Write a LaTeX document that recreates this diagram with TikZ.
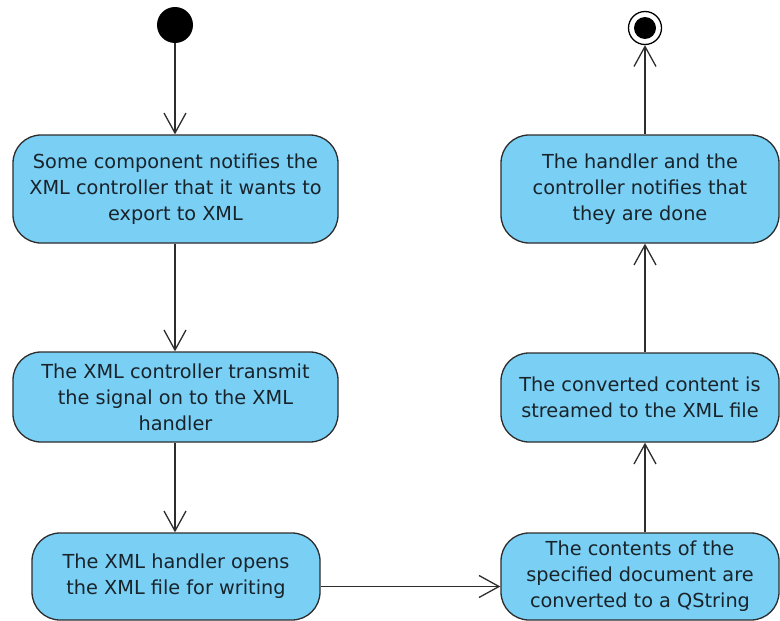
\documentclass[tikz,border=0pt]{standalone}
\usepackage{fontspec}
\setmainfont{DejaVu Sans}
\usetikzlibrary{arrows.meta}
\definecolor{actfill}{RGB}{122,207,245}
\definecolor{actline}{RGB}{45,45,45}
\definecolor{acttext}{RGB}{25,35,42}
\tikzset{
  action/.style={draw=actline, line width=1.3pt, fill=actfill, rounded corners=28pt,
    align=center, text=acttext, inner sep=0pt,
    font=\fontsize{19.3}{26}\selectfont},
  flow/.style={draw=actline, line width=1.3pt,
    -{Straight Barb[length=20pt,width=22pt,line width=1.3pt]}},
}
\begin{document}
\begin{tikzpicture}[x=1pt,y=-1pt]
\useasboundingbox (0,0) rectangle (780,621);
% initial and final states
\node[circle, fill=black, minimum size=36pt, inner sep=0pt] (init) at (175,25) {};
\node[circle, draw=black, line width=1.3pt, fill=white, minimum size=33pt, inner sep=0pt] (fin) at (645,28) {};
\fill[black] (fin.center) circle (11pt);
% actions, left column
\node[action, minimum width=325pt, minimum height=108pt] (b1) at (175.5,189)
  {Some component notifies the\\XML controller that it wants to\\export to XML};
\node[action, minimum width=325pt, minimum height=90pt] (b2) at (175.5,397)
  {The XML controller transmit\\the signal on to the XML\\handler};
\node[action, minimum width=288pt, minimum height=87pt] (b3) at (176,576.5)
  {The XML handler opens\\the XML file for writing};
% actions, right column
\node[action, minimum width=278pt, minimum height=108pt] (r1) at (640,189)
  {The handler and the\\controller notifies that\\they are done};
\node[action, minimum width=278pt, minimum height=89pt] (r2) at (640,397.5)
  {The converted content is\\streamed to the XML file};
\node[action, minimum width=278pt, minimum height=87pt] (r3) at (640,576.5)
  {The contents of the\\specified document are\\converted to a QString};
% control flow
\draw[flow] (init.south) -- (init.south |- b1.north);
\draw[flow] (b1.south -| init) -- (b2.north -| init);
\draw[flow] (b2.south -| init) -- (b3.north -| init);
\draw[flow] ([yshift=-10pt]b3.east) -- ([yshift=-10pt]b3.east -| r3.west);
\draw[flow] (r3.north -| fin) -- (r2.south -| fin);
\draw[flow] (r2.north -| fin) -- (r1.south -| fin);
\draw[flow] (r1.north -| fin) -- (fin.south);
\end{tikzpicture}
\end{document}
